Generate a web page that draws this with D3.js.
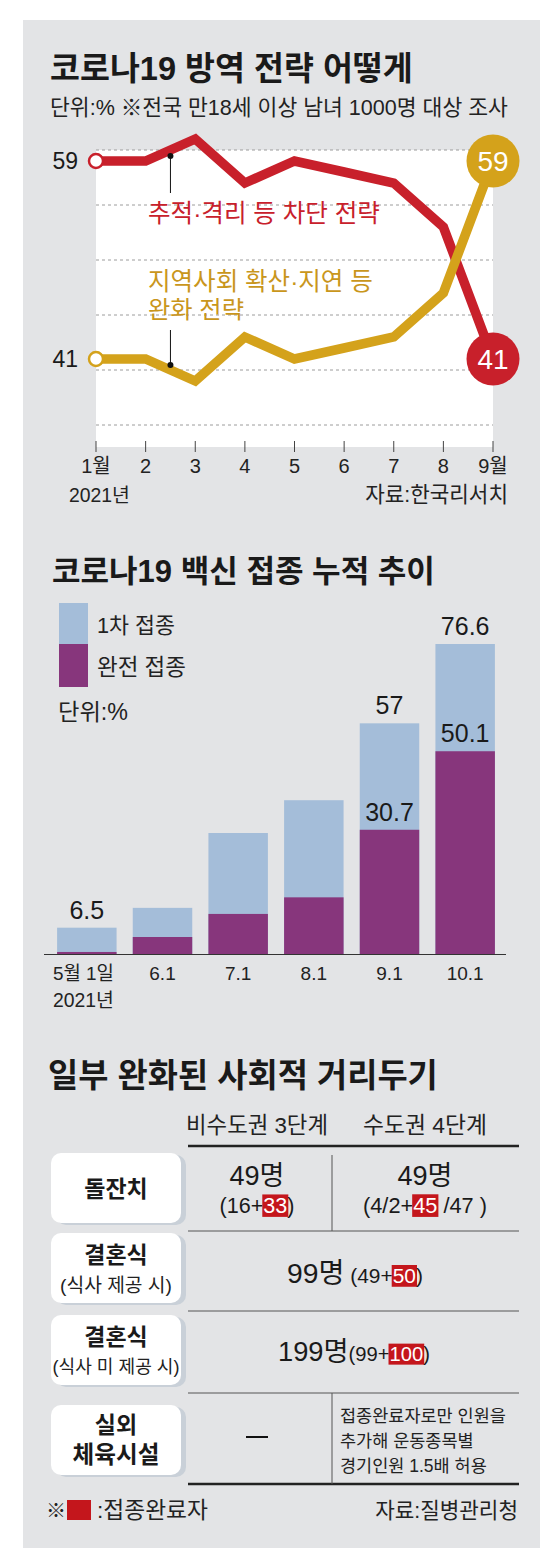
<!DOCTYPE html>
<html>
<head>
<meta charset="utf-8">
<script src="https://cdn.jsdelivr.net/npm/d3@7"></script>
<style>
  body { margin: 0; background: #fff; }
  svg text { font-family: "Liberation Sans", "Noto Sans CJK KR", sans-serif; }
</style>
</head>
<body>
<svg id="chart" width="560" height="1563"></svg>
<script>
// ---- data ----
const months = ["1월", "2", "3", "4", "5", "6", "7", "8", "9월"];
const blockStrategy = [59, 59, 61, 57, 59, 58, 57, 53, 41];   // 추적·격리 등 차단 전략
const easeStrategy = [41, 41, 39, 43, 41, 42, 43, 47, 59];    // 지역사회 확산·지연 등 완화 전략
const gridValues = [60, 55, 50, 45, 40, 35];

const vaxDates = ["5월 1일", "6.1", "7.1", "8.1", "9.1", "10.1"];
const firstDose = [6.5, 11.4, 29.9, 38, 57, 76.6];
const fullDose = [0.5, 4.2, 9.9, 14, 30.7, 50.1];
const firstDoseLabels = ["6.5", "", "", "", "57", "76.6"];
const fullDoseLabels = ["", "", "", "", "30.7", "50.1"];

const tableColumns = ["비수도권 3단계", "수도권 4단계"];
const rowLabels = [["돌잔치"], ["결혼식", "(식사 제공 시)"], ["결혼식", "(식사 미 제공 시)"], ["실외", "체육시설"]];
const gatheringRow = [
  { main: "49명", sub: [["(16+", 0], ["33", 1], [")", 0]] },
  { main: "49명", sub: [["(4/2+", 0], ["45", 1], [" /47 )", 0]] }
];
const weddingMeal = [["99명", 0, 27], [" (49+", 0, 20], ["50", 1, 20], [")", 0, 20]];
const weddingNoMeal = [["199명", 0, 27], ["(99+", 0, 20], ["100", 1, 20], [")", 0, 20]];
const sportsNote = ["접종완료자로만 인원을", "추가해 운동종목별", "경기인원 1.5배 허용"];

// ---- colours ----
const RED = "#c8202b", GOLD = "#d4a21b", GOLD_TEXT = "#c9961c";
const LIGHT = "#a4bdd9", PURPLE = "#87367c", BG = "#e3e4e6", HL = "#c4161c";

const svg = d3.select("#chart");

svg.append("rect").attr("x", 23).attr("y", 20).attr("width", 517).attr("height", 1528).attr("fill", BG);

// scale a text's font size so that it spans the given width
function fit(sel, w) {
  const fs = parseFloat(sel.attr("font-size"));
  const cur = sel.node().getComputedTextLength();
  sel.attr("font-size", fs * w / cur);
  return sel;
}

function label(g, x, y, txt, size, opts = {}) {
  const t = g.append("text").attr("x", x).attr("y", y).text(txt)
    .attr("font-size", size)
    .attr("fill", opts.fill || "#1a1a1a")
    .attr("font-weight", opts.weight || 400)
    .attr("text-anchor", opts.anchor || "start");
  if (opts.width) fit(t, opts.width);
  return t;
}

// =================== 1. line chart ===================
const g1 = svg.append("g");
label(g1, 50, 80, "코로나19 방역 전략 어떻게", 30, { weight: 700, width: 363 });
label(g1, 50, 115, "단위:%  ※전국 만18세 이상 남녀 1000명 대상 조사", 19, { width: 458, fill: "#222" });

const x = d3.scalePoint().domain(months).range([96, 493]);
const y = d3.scaleLinear().domain([33, 60]).range([447, 150]);

g1.append("rect").attr("x", 96).attr("y", y(60)).attr("width", 397).attr("height", y(33) - y(60)).attr("fill", "#fff");

g1.selectAll(".grid").data(gridValues).join("line")
  .attr("x1", 96).attr("x2", 493)
  .attr("y1", d => y(d)).attr("y2", d => y(d))
  .attr("stroke", "#9c9c9c").attr("stroke-width", 1).attr("stroke-dasharray", "3,3");

g1.selectAll(".tick").data(months).join("line")
  .attr("x1", d => x(d)).attr("x2", d => x(d))
  .attr("y1", 441).attr("y2", 452)
  .attr("stroke", "#444").attr("stroke-width", 1);

g1.selectAll(".xl").data(months).join("text")
  .attr("x", d => x(d)).attr("y", 473)
  .attr("text-anchor", "middle").attr("font-size", 20).attr("fill", "#222")
  .text(d => d);
label(g1, 69, 502, "2021년", 19, { width: 61, fill: "#222" });
label(g1, 508, 502, "자료:한국리서치", 19, { anchor: "end", width: 143, fill: "#222" });

const line = d3.line().x((d, i) => x(months[i])).y(d => y(d));
g1.append("path").datum(blockStrategy).attr("d", line)
  .attr("fill", "none").attr("stroke", RED).attr("stroke-width", 9.5);
g1.append("path").datum(easeStrategy).attr("d", line)
  .attr("fill", "none").attr("stroke", GOLD).attr("stroke-width", 9.5);

// start markers and left values
[[blockStrategy, RED], [easeStrategy, GOLD]].forEach(([s, c]) => {
  g1.append("circle").attr("cx", x(months[0])).attr("cy", y(s[0])).attr("r", 7)
    .attr("fill", "#fff").attr("stroke", c).attr("stroke-width", 2.5);
  label(g1, 78, y(s[0]) + 8, s[0], 23, { anchor: "end" });
});
// end markers
[[blockStrategy, RED], [easeStrategy, GOLD]].forEach(([s, c]) => {
  const last = s[s.length - 1];
  g1.append("circle").attr("cx", x(months[8])).attr("cy", y(last)).attr("r", 26.5).attr("fill", c);
  label(g1, x(months[8]), y(last) + 10, last, 28, { anchor: "middle", fill: "#fff" });
});

// callouts
const xa = (x(months[1]) + x(months[2])) / 2;
const redMid = (blockStrategy[1] + blockStrategy[2]) / 2;
const goldMid = (easeStrategy[1] + easeStrategy[2]) / 2;
g1.append("line").attr("x1", xa).attr("x2", xa).attr("y1", y(redMid) + 6).attr("y2", y(redMid) + 43).attr("stroke", "#111");
g1.append("circle").attr("cx", xa).attr("cy", y(redMid) + 6).attr("r", 3).attr("fill", "#111");
g1.append("line").attr("x1", xa).attr("x2", xa).attr("y1", y(goldMid) - 5).attr("y2", y(goldMid) - 40).attr("stroke", "#111");
g1.append("circle").attr("cx", xa).attr("cy", y(goldMid) - 5).attr("r", 3).attr("fill", "#111");

label(g1, 148, 222, "추적·격리 등 차단 전략", 21, { fill: RED, width: 232 });
label(g1, 148, 290, "지역사회 확산·지연 등", 21, { fill: GOLD_TEXT, width: 225 });
label(g1, 148, 318, "완화 전략", 21, { fill: GOLD_TEXT, width: 96 });

// =================== 2. stacked bars ===================
const g2 = svg.append("g");
label(g2, 52, 582, "코로나19 백신 접종 누적 추이", 30, { weight: 700, width: 383 });

g2.append("rect").attr("x", 59).attr("y", 603).attr("width", 29).attr("height", 41).attr("fill", LIGHT);
g2.append("rect").attr("x", 59).attr("y", 644).attr("width", 29).attr("height", 43).attr("fill", PURPLE);
label(g2, 97, 633, "1차 접종", 18, { width: 78, fill: "#222" });
label(g2, 97, 675, "완전 접종", 18, { width: 89, fill: "#222" });
label(g2, 58, 720, "단위:%", 18, { width: 70, fill: "#222" });

const xb = d3.scaleBand().domain(vaxDates).range([49, 503]).paddingInner(0.214).paddingOuter(0.107);
const yb = d3.scaleLinear().domain([0, 100]).range([954, 549.3]);

g2.selectAll(".first").data(firstDose).join("rect")
  .attr("x", (d, i) => xb(vaxDates[i])).attr("width", xb.bandwidth())
  .attr("y", d => yb(d)).attr("height", d => yb(0) - yb(d)).attr("fill", LIGHT);
g2.selectAll(".full").data(fullDose).join("rect")
  .attr("x", (d, i) => xb(vaxDates[i])).attr("width", xb.bandwidth())
  .attr("y", d => yb(d)).attr("height", d => yb(0) - yb(d)).attr("fill", PURPLE);

g2.append("line").attr("x1", 44).attr("x2", 506).attr("y1", 954.5).attr("y2", 954.5).attr("stroke", "#333").attr("stroke-width", 1);

const mid = i => xb(vaxDates[i]) + xb.bandwidth() / 2;
firstDoseLabels.forEach((t, i) => {
  if (t) label(g2, mid(i), yb(firstDose[i]) - 9, t, 25, { anchor: "middle" });
});
fullDoseLabels.forEach((t, i) => {
  if (t) label(g2, mid(i), yb(fullDose[i]) - 9, t, 25, { anchor: "middle" });
});

vaxDates.forEach((d, i) => {
  if (i === 0) label(g2, 53, 980, d, 19, { width: 61, fill: "#222" });
  else label(g2, mid(i), 980, d, 19, { anchor: "middle", fill: "#222" });
});
label(g2, 53, 1007, "2021년", 19, { width: 61, fill: "#222" });

// =================== 3. table ===================
const g3 = svg.append("g");
label(g3, 48, 1087, "일부 완화된 사회적 거리두기", 30, { weight: 700, width: 390 });

const colX = [257, 425];
tableColumns.forEach((c, i) => label(g3, colX[i], 1133, c, 18, { anchor: "middle", width: i ? 124 : 142, fill: "#222" }));

const rowBoxes = [[1153, 1223], [1233, 1303], [1315, 1385], [1405, 1475]];
rowBoxes.forEach(([t, b]) => {
  g3.append("rect").attr("x", 56).attr("y", t + 2).attr("width", 130).attr("height", b - t)
    .attr("rx", 10).attr("fill", "#c9d0d8");
  g3.append("rect").attr("x", 51).attr("y", t).attr("width", 130).attr("height", b - t)
    .attr("rx", 10).attr("fill", "#fff");
});

// row labels
label(g3, 116, 1197, rowLabels[0][0], 23, { anchor: "middle", weight: 700 });
label(g3, 116, 1263, rowLabels[1][0], 23, { anchor: "middle", weight: 700 });
label(g3, 116, 1292, rowLabels[1][1], 17, { anchor: "middle", width: 112, fill: "#222" });
label(g3, 116, 1345, rowLabels[2][0], 23, { anchor: "middle", weight: 700 });
label(g3, 116, 1373, rowLabels[2][1], 17, { anchor: "middle", width: 127, fill: "#222" });
label(g3, 116, 1433, rowLabels[3][0], 23, { anchor: "middle", weight: 700 });
label(g3, 116, 1463, rowLabels[3][1], 22, { anchor: "middle", weight: 700, width: 87 });

// rules
const ruleX = [188, 519];
[[1146, 2.5, "#222"], [1231, 1, "#555"], [1311, 1, "#555"], [1393, 1, "#555"], [1484, 2.5, "#222"]].forEach(([yy, w, c]) => {
  g3.append("line").attr("x1", ruleX[0]).attr("x2", ruleX[1]).attr("y1", yy).attr("y2", yy)
    .attr("stroke", c).attr("stroke-width", w);
});
[[1155, 1231], [1393, 1484]].forEach(([a, b]) => {
  g3.append("line").attr("x1", 332).attr("x2", 332).attr("y1", a).attr("y2", b).attr("stroke", "#555");
});

// a centred line made of pieces, some on a red highlight, scaled to span width w
function richLine(g, parts, cx, yy, w) {
  const nodes = parts.map(([t, hl, size]) => {
    const n = g.append("text").attr("y", yy).attr("font-size", size || 19)
      .attr("fill", hl ? "#fff" : "#1a1a1a").attr("xml:space", "preserve").text(t);
    return { n, hl, size: size || 19 };
  });
  const k = w / d3.sum(nodes, d => d.n.node().getComputedTextLength());
  nodes.forEach(d => { d.size *= k; d.n.attr("font-size", d.size); d.w = d.n.node().getComputedTextLength(); });
  let cur = cx - w / 2;
  nodes.forEach(({ n, w, hl, size }) => {
    if (hl) {
      g.insert("rect", () => n.node()).attr("x", cur - 1).attr("y", yy - size * 0.86)
        .attr("width", w + 2).attr("height", size * 1.04).attr("fill", HL);
    }
    n.attr("x", cur);
    cur += w;
  });
}

gatheringRow.forEach((c, i) => {
  label(g3, colX[i], 1185, c.main, 27, { anchor: "middle", width: 55 });
  richLine(g3, c.sub, colX[i], 1213, i ? 124 : 75);
});
richLine(g3, weddingMeal, 355, 1283, 136);
richLine(g3, weddingNoMeal, 354, 1361, 152);

g3.append("line").attr("x1", 246).attr("x2", 268).attr("y1", 1437).attr("y2", 1437).attr("stroke", "#111").attr("stroke-width", 2);
sportsNote.forEach((t, i) => label(g3, 340, 1422 + i * 25, t, 17.5, { fill: "#222" }));

// footer
label(g3, 46, 1518, "※", 20, { fill: "#222" });
g3.append("rect").attr("x", 67).attr("y", 1500).attr("width", 24).attr("height", 20).attr("fill", HL);
label(g3, 97, 1518, ":접종완료자", 20, { width: 111, fill: "#222" });
label(g3, 518, 1518, "자료:질병관리청", 20, { anchor: "end", width: 143, fill: "#222" });
</script>
</body>
</html>
